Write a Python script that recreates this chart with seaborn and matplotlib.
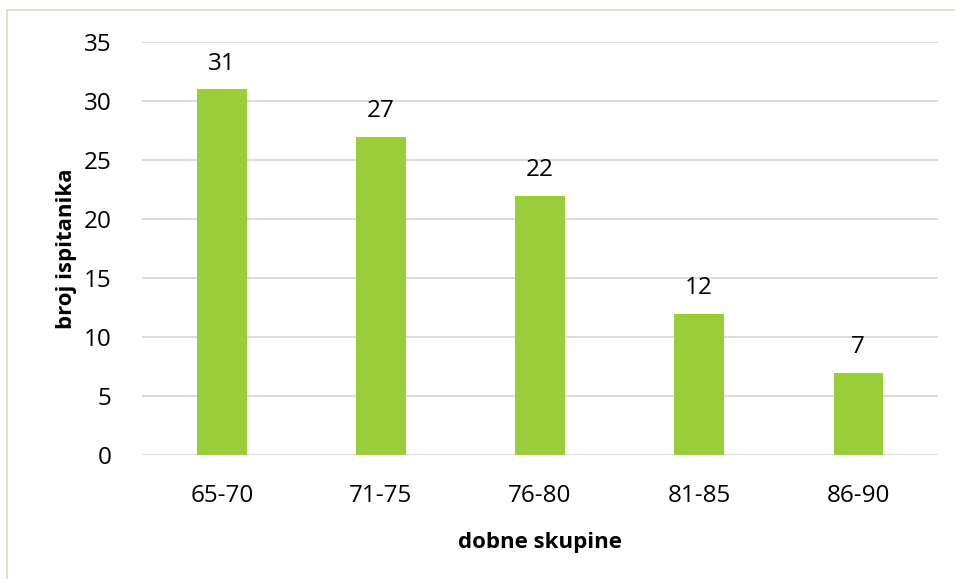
import matplotlib
matplotlib.use("Agg")
import matplotlib.pyplot as plt
import seaborn as sns
import pandas as pd
from matplotlib.lines import Line2D

# podatki
groups = ['65-70', '71-75', '76-80', '81-85', '86-90']
counts = [31, 27, 22, 12, 7]

df = pd.DataFrame({'dobne skupine': groups, 'broj ispitanika': counts})

sns.set_style('white')
plt.rcParams['font.family'] = ['Open Sans', 'DejaVu Sans']
plt.rcParams['text.color'] = 'black'
plt.rcParams['axes.labelcolor'] = 'black'
plt.rcParams['xtick.color'] = 'black'
plt.rcParams['ytick.color'] = 'black'

fig = plt.figure(figsize=(9.55, 5.79), dpi=100)
ax = fig.add_axes([0.149, 0.214, 0.833, 0.713])

sns.barplot(data=df, x='dobne skupine', y='broj ispitanika', color='#9ACD3A',
            width=0.31, saturation=1, ax=ax, zorder=3, edgecolor='none')

ax.set_ylim(0, 35)
ax.set_yticks(range(0, 36, 5))
ax.set_xlim(-0.5, len(groups) - 0.5)
ax.yaxis.grid(True, color='#D9D9D9', linewidth=1.3, zorder=0)
ax.set_axisbelow(True)
for s in ax.spines.values():
    s.set_visible(False)
ax.tick_params(axis='both', length=0, labelsize=17.5)
ax.tick_params(axis='y', pad=22)
ax.tick_params(axis='x', pad=21)
ax.set_xlabel('dobne skupine', fontsize=16, fontweight='bold', labelpad=17)
ax.set_ylabel('broj ispitanika', fontsize=16, fontweight='bold', labelpad=5)

for c in ax.containers:
    ax.bar_label(c, fontsize=17.5, padding=10)

# okvir grafikona
fig.add_artist(Line2D([7 / 955, 7 / 955], [0, 1 - 10 / 579], color='#DDD9C8', lw=1.2))
fig.add_artist(Line2D([7 / 955, 1], [1 - 10 / 579, 1 - 10 / 579], color='#DDD9C8', lw=1.2))

fig.savefig('out.png', dpi=100)
